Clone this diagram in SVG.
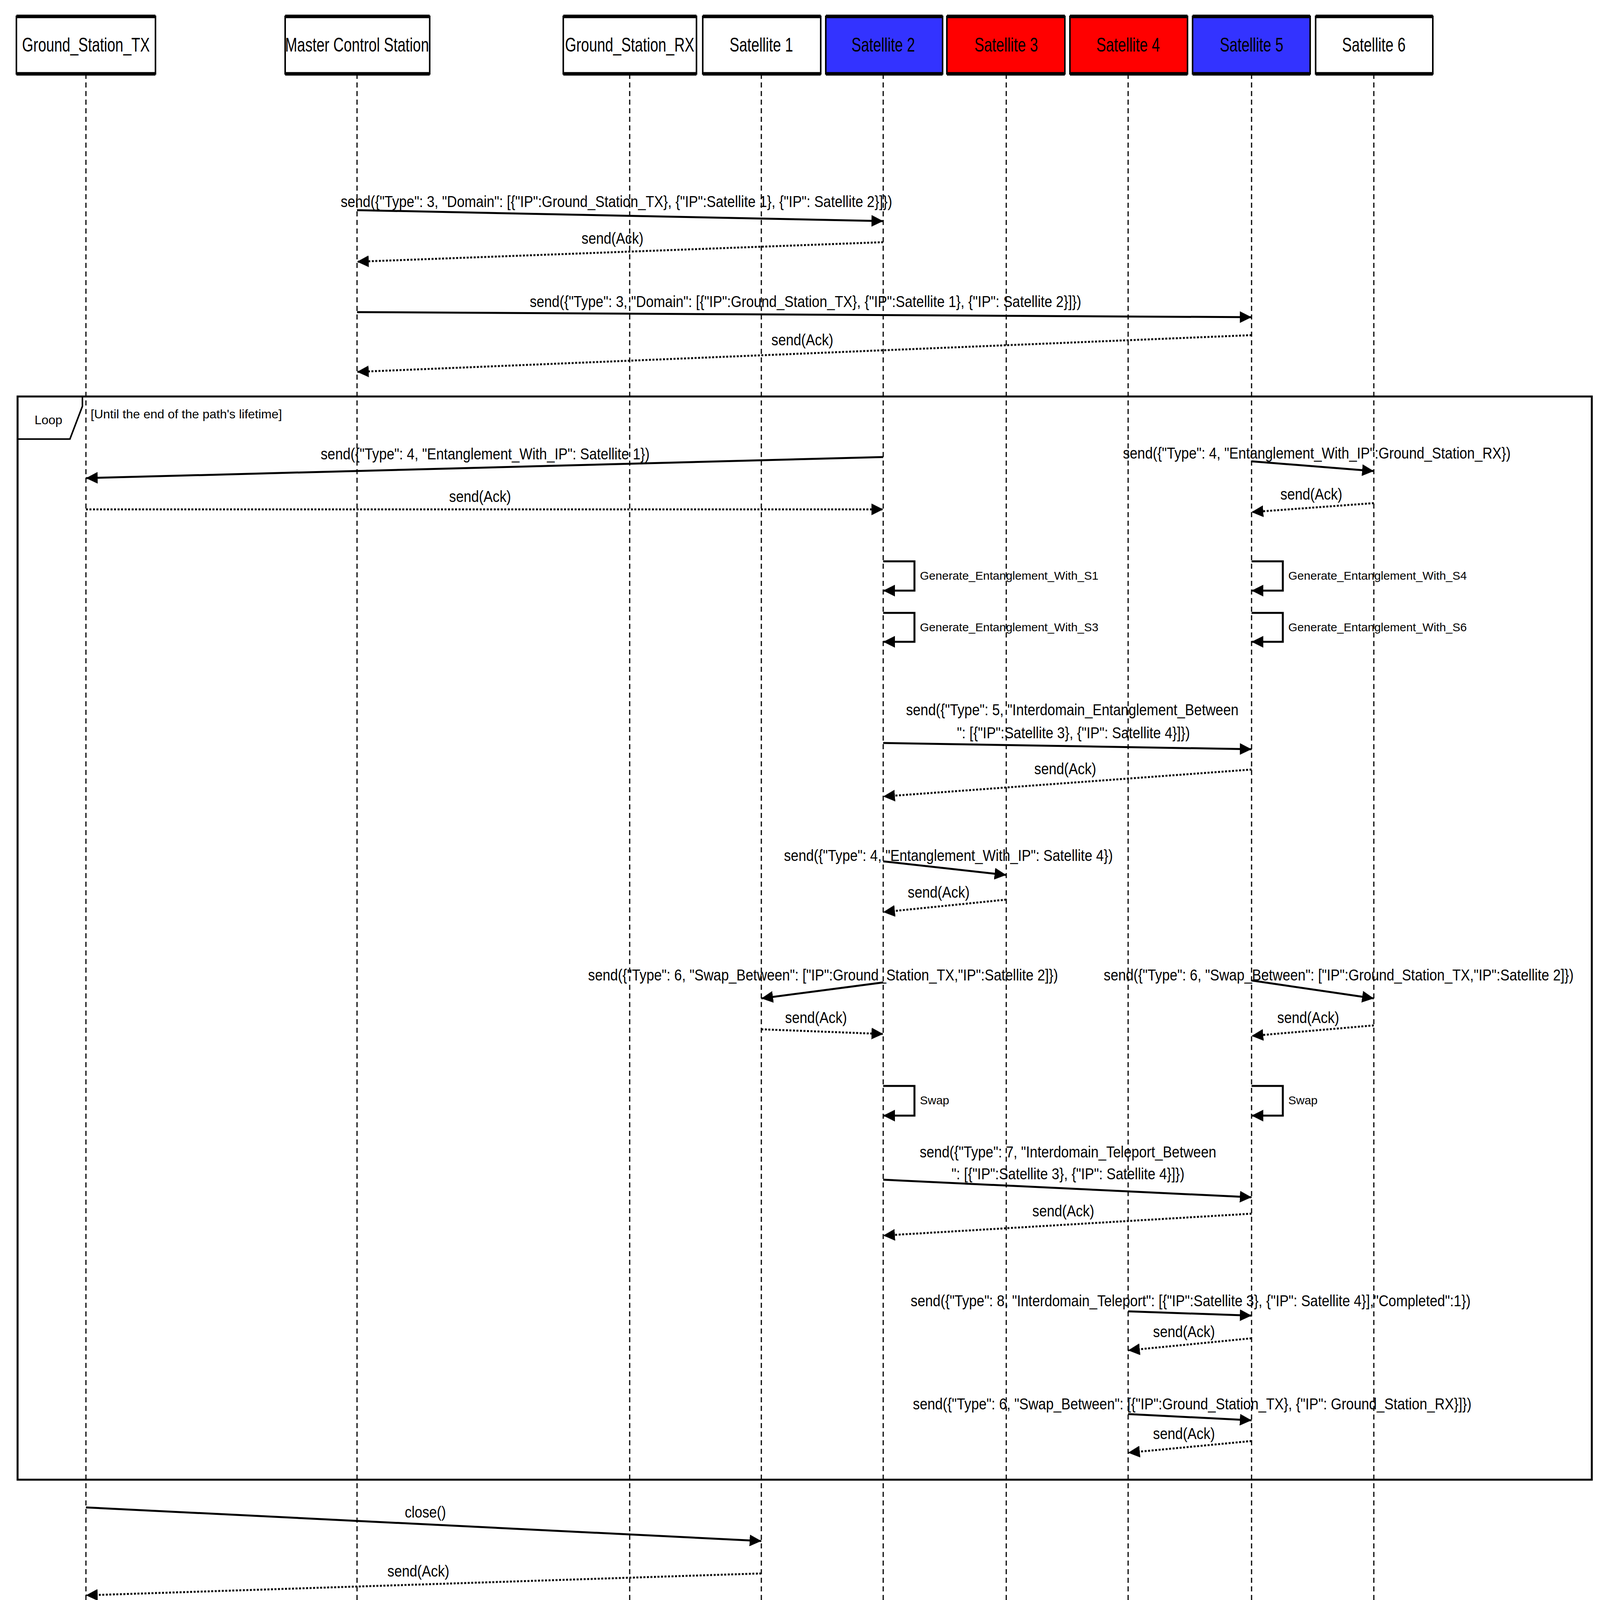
<svg xmlns="http://www.w3.org/2000/svg" width="4113" height="5375" viewBox="0 0 4113 5375">
<style>
.box{stroke:#000;stroke-width:4}
.bar{stroke:#000;stroke-width:9}
.life{stroke:#000;stroke-width:3;stroke-dasharray:13,9;fill:none}
.m{stroke:#000;stroke-width:5;fill:none;marker-end:url(#ah)}
.r{stroke:#000;stroke-width:5;stroke-dasharray:5,4;fill:none;marker-end:url(#ah)}
.h{font-family:"Liberation Sans",Arial,sans-serif;font-size:50px;text-anchor:middle}
.t{font-family:"Liberation Sans",Arial,sans-serif;font-size:40px;text-anchor:middle}
.s{font-family:"Liberation Sans",Arial,sans-serif;font-size:30px}
.g{font-family:"Liberation Sans",Arial,sans-serif;font-size:32px}
</style>
<defs>
<marker id="ah" viewBox="0 0 20 20" refX="20" refY="10" markerWidth="30" markerHeight="30" markerUnits="userSpaceOnUse" orient="auto"><path d="M0,0 L20,10 L0,20 Z" fill="#000"/></marker>
</defs>
<g id="lifelines">
<line class="life" x1="220" y1="189" x2="220" y2="5247"/>
<line class="life" x1="914" y1="189" x2="914" y2="5333"/>
<line class="life" x1="1612" y1="189" x2="1612" y2="5333"/>
<line class="life" x1="1949" y1="189" x2="1949" y2="5333"/>
<line class="life" x1="2261" y1="189" x2="2261" y2="5333"/>
<line class="life" x1="2576" y1="189" x2="2576" y2="5333"/>
<line class="life" x1="2888" y1="189" x2="2888" y2="5333"/>
<line class="life" x1="3204" y1="189" x2="3204" y2="5333"/>
<line class="life" x1="3517" y1="189" x2="3517" y2="5333"/>
</g>
<g id="node-gstx"><rect class="box" x="42" y="42" width="356" height="147" fill="#fff"/><line class="bar" x1="42" y1="42" x2="398" y2="42"/><line class="bar" x1="42" y1="189" x2="398" y2="189"/><text class="h" transform="translate(220,132) scale(0.74,1)">Ground_Station_TX</text></g>
<g id="node-mcs"><rect class="box" x="730" y="42" width="370" height="147" fill="#fff"/><line class="bar" x1="730" y1="42" x2="1100" y2="42"/><line class="bar" x1="730" y1="189" x2="1100" y2="189"/><text class="h" transform="translate(914,132) scale(0.74,1)">Master Control Station</text></g>
<g id="node-gsrx"><rect class="box" x="1442" y="42" width="341" height="147" fill="#fff"/><line class="bar" x1="1442" y1="42" x2="1783" y2="42"/><line class="bar" x1="1442" y1="189" x2="1783" y2="189"/><text class="h" transform="translate(1612,132) scale(0.74,1)">Ground_Station_RX</text></g>
<g id="node-sat1"><rect class="box" x="1799" y="42" width="302" height="147" fill="#fff"/><line class="bar" x1="1799" y1="42" x2="2101" y2="42"/><line class="bar" x1="1799" y1="189" x2="2101" y2="189"/><text class="h" transform="translate(1949,132) scale(0.74,1)">Satellite 1</text></g>
<g id="node-sat2"><rect class="box" x="2114" y="42" width="299" height="147" fill="#3333ff"/><line class="bar" x1="2114" y1="42" x2="2413" y2="42"/><line class="bar" x1="2114" y1="189" x2="2413" y2="189"/><text class="h" transform="translate(2261,132) scale(0.74,1)">Satellite 2</text></g>
<g id="node-sat3"><rect class="box" x="2424" y="42" width="302" height="147" fill="#ff0000"/><line class="bar" x1="2424" y1="42" x2="2726" y2="42"/><line class="bar" x1="2424" y1="189" x2="2726" y2="189"/><text class="h" transform="translate(2576,132) scale(0.74,1)">Satellite 3</text></g>
<g id="node-sat4"><rect class="box" x="2739" y="42" width="301" height="147" fill="#ff0000"/><line class="bar" x1="2739" y1="42" x2="3040" y2="42"/><line class="bar" x1="2739" y1="189" x2="3040" y2="189"/><text class="h" transform="translate(2888,132) scale(0.74,1)">Satellite 4</text></g>
<g id="node-sat5"><rect class="box" x="3053" y="42" width="301" height="147" fill="#3333ff"/><line class="bar" x1="3053" y1="42" x2="3354" y2="42"/><line class="bar" x1="3053" y1="189" x2="3354" y2="189"/><text class="h" transform="translate(3204,132) scale(0.74,1)">Satellite 5</text></g>
<g id="node-sat6"><rect class="box" x="3368" y="42" width="300" height="147" fill="#fff"/><line class="bar" x1="3368" y1="42" x2="3668" y2="42"/><line class="bar" x1="3368" y1="189" x2="3668" y2="189"/><text class="h" transform="translate(3517,132) scale(0.74,1)">Satellite 6</text></g>
<g id="loop">
<rect x="45" y="1015" width="4030" height="2773" fill="none" stroke="#000" stroke-width="5"/>
<path d="M45,1124 H179 L211,1040 V1015" fill="none" stroke="#000" stroke-width="4"/>
<text class="g" x="124" y="1086" text-anchor="middle">Loop</text>
<text class="g" x="232" y="1071">[Until the end of the path's lifetime]</text>
</g>
<g id="connectors">
<path class="m" d="M914,538 L2261,566"/>
<path class="r" d="M2261,620 L914,670"/>
<path class="m" d="M914,799 L3204,812"/>
<path class="r" d="M3204,858 L914,952"/>
<path class="m" d="M2261,1170 L220,1224"/>
<path class="m" d="M3204,1181 L3517,1206"/>
<path class="r" d="M220,1304 L2261,1304"/>
<path class="r" d="M3517,1288 L3204,1311"/>
<path class="m" d="M2261,1437 H2341 V1512 H2261"/>
<path class="m" d="M2261,1569 H2341 V1643 H2261"/>
<path class="m" d="M3204,1437 H3284 V1512 H3204"/>
<path class="m" d="M3204,1569 H3284 V1643 H3204"/>
<path class="m" d="M2261,1902 L3204,1918"/>
<path class="r" d="M3204,1970 L2261,2039"/>
<path class="m" d="M2261,2205 L2576,2240"/>
<path class="r" d="M2576,2303 L2261,2335"/>
<path class="m" d="M2261,2515 L1949,2556"/>
<path class="m" d="M3204,2510 L3517,2556"/>
<path class="r" d="M1949,2635 L2261,2647"/>
<path class="r" d="M3517,2625 L3204,2652"/>
<path class="m" d="M2261,2780 H2341 V2856 H2261"/>
<path class="m" d="M3204,2780 H3284 V2856 H3204"/>
<path class="m" d="M2261,3020 L3204,3065"/>
<path class="r" d="M3204,3107 L2261,3163"/>
<path class="m" d="M2888,3357 L3204,3368"/>
<path class="r" d="M3204,3426 L2888,3457"/>
<path class="m" d="M2888,3620 L3204,3636"/>
<path class="r" d="M3204,3689 L2888,3719"/>
<path class="m" d="M220,3859 L1949,3945"/>
<path class="r" d="M1949,4028 L220,4084"/>
<path class="m" d="M1949,4167 L2261,4194"/>
<path class="r" d="M2261,4260 L1949,4291"/>
<path class="m" d="M2261,4311 L2576,4335"/>
<path class="r" d="M2576,4389 L2261,4426"/>
<path class="m" d="M2576,4442 L2888,4468"/>
<path class="r" d="M2888,4512 L2576,4551"/>
<path class="m" d="M2888,4570 L3204,4601"/>
<path class="r" d="M3204,4643 L2888,4668"/>
<path class="m" d="M3204,4695 L3517,4721"/>
<path class="r" d="M3517,4766 L3204,4800"/>
<path class="m" d="M3517,4855 L1612,4923"/>
<path class="r" d="M1612,4976 L3517,5009"/>
</g>
<g id="labels">
<text class="t" transform="translate(1578,530) scale(0.88,1)">send({"Type": 3, "Domain": [{"IP":Ground_Station_TX}, {"IP":Satellite 1}, {"IP": Satellite 2}]})</text>
<text class="t" transform="translate(1568,624) scale(0.88,1)">send(Ack)</text>
<text class="t" transform="translate(2062,786) scale(0.88,1)">send({"Type": 3, "Domain": [{"IP":Ground_Station_TX}, {"IP":Satellite 1}, {"IP": Satellite 2}]})</text>
<text class="t" transform="translate(2054,884) scale(0.88,1)">send(Ack)</text>
<text class="t" transform="translate(1242,1176) scale(0.88,1)">send({"Type": 4, "Entanglement_With_IP": Satellite 1})</text>
<text class="t" transform="translate(3371,1174) scale(0.88,1)">send({"Type": 4, "Entanglement_With_IP":Ground_Station_RX})</text>
<text class="t" transform="translate(1229,1285) scale(0.88,1)">send(Ack)</text>
<text class="t" transform="translate(3357,1279) scale(0.88,1)">send(Ack)</text>
<text class="s" x="2355" y="1484">Generate_Entanglement_With_S1</text>
<text class="s" x="2355" y="1616">Generate_Entanglement_With_S3</text>
<text class="s" x="3298" y="1484">Generate_Entanglement_With_S4</text>
<text class="s" x="3298" y="1616">Generate_Entanglement_With_S6</text>
<text class="t" transform="translate(2745,1831) scale(0.88,1)">send({"Type": 5, "Interdomain_Entanglement_Between</text>
<text class="t" transform="translate(2748,1890) scale(0.88,1)">": [{"IP":Satellite 3}, {"IP": Satellite 4}]})</text>
<text class="t" transform="translate(2727,1982) scale(0.88,1)">send(Ack)</text>
<text class="t" transform="translate(2428,2204) scale(0.88,1)">send({"Type": 4, "Entanglement_With_IP": Satellite 4})</text>
<text class="t" transform="translate(2403,2298) scale(0.88,1)">send(Ack)</text>
<text class="t" transform="translate(2107,2510) scale(0.88,1)">send({"Type": 6, "Swap_Between": ["IP":Ground_Station_TX,"IP":Satellite 2]})</text>
<text class="t" transform="translate(3427,2510) scale(0.88,1)">send({"Type": 6, "Swap_Between": ["IP":Ground_Station_TX,"IP":Satellite 2]})</text>
<text class="t" transform="translate(2089,2619) scale(0.88,1)">send(Ack)</text>
<text class="t" transform="translate(3349,2619) scale(0.88,1)">send(Ack)</text>
<text class="s" x="2355" y="2827">Swap</text>
<text class="s" x="3298" y="2827">Swap</text>
<text class="t" transform="translate(2734,2963) scale(0.88,1)">send({"Type": 7, "Interdomain_Teleport_Between</text>
<text class="t" transform="translate(2734,3019) scale(0.88,1)">": [{"IP":Satellite 3}, {"IP": Satellite 4}]})</text>
<text class="t" transform="translate(2722,3114) scale(0.88,1)">send(Ack)</text>
<text class="t" transform="translate(3048,3344) scale(0.88,1)">send({"Type": 8, "Interdomain_Teleport": [{"IP":Satellite 3}, {"IP": Satellite 4}],"Completed":1})</text>
<text class="t" transform="translate(3031,3423) scale(0.88,1)">send(Ack)</text>
<text class="t" transform="translate(3052,3608) scale(0.88,1)">send({"Type": 6, "Swap_Between": [{"IP":Ground_Station_TX}, {"IP": Ground_Station_RX}]})</text>
<text class="t" transform="translate(3031,3684) scale(0.88,1)">send(Ack)</text>
<text class="t" transform="translate(1089,3885) scale(0.88,1)">close()</text>
<text class="t" transform="translate(1071,4036) scale(0.88,1)">send(Ack)</text>
<text class="t" transform="translate(2115,4158) scale(0.88,1)">close()</text>
<text class="t" transform="translate(2096,4254) scale(0.88,1)">send(Ack)</text>
<text class="t" transform="translate(2426,4301) scale(0.88,1)">close()</text>
<text class="t" transform="translate(2410,4386) scale(0.88,1)">send(Ack)</text>
<text class="t" transform="translate(2740,4435) scale(0.88,1)">close()</text>
<text class="t" transform="translate(2729,4510) scale(0.88,1)">send(Ack)</text>
<text class="t" transform="translate(3059,4564) scale(0.88,1)">close()</text>
<text class="t" transform="translate(3040,4637) scale(0.88,1)">send(Ack)</text>
<text class="t" transform="translate(3373,4686) scale(0.88,1)">close()</text>
<text class="t" transform="translate(3357,4762) scale(0.88,1)">send(Ack)</text>
<text class="t" transform="translate(2574,4868) scale(0.88,1)">close()</text>
<text class="t" transform="translate(2558,4971) scale(0.88,1)">send(Ack)</text>
</g>
</svg>
